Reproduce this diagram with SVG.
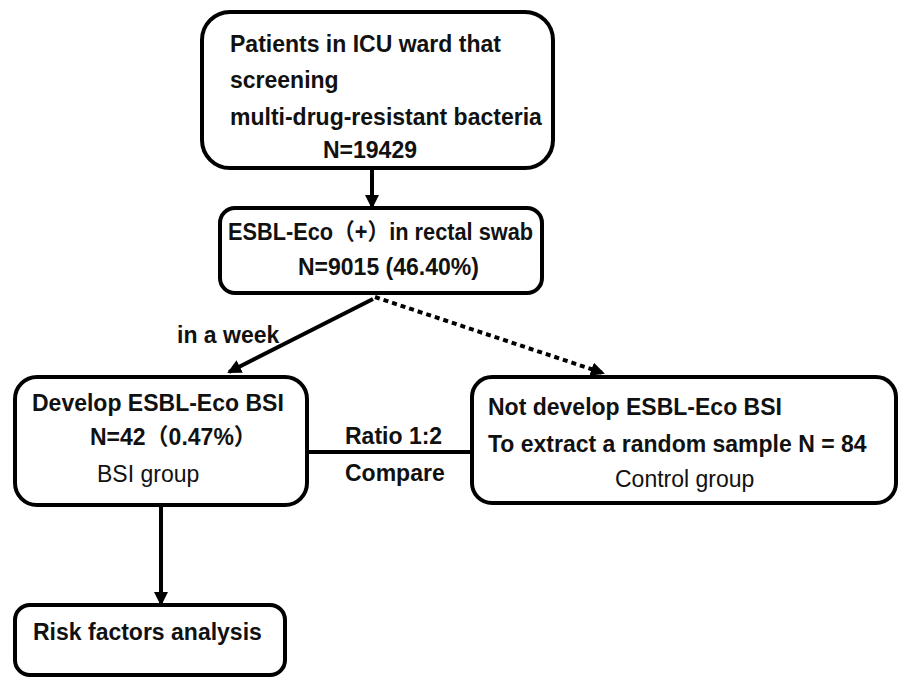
<svg xmlns="http://www.w3.org/2000/svg" width="899" height="678" viewBox="0 0 899 678">
<style>
.box{fill:#fff;stroke:#000;stroke-width:4}
.b{font-family:"Liberation Sans","Noto Sans CJK SC",Arial,sans-serif;font-weight:bold;font-size:23px;fill:#111}
.r{font-family:"Liberation Sans","Noto Sans CJK SC",Arial,sans-serif;font-size:23px;fill:#111}
.ln{stroke:#000;stroke-width:4;fill:none}
</style>
<defs>
<marker id="ah" markerWidth="14" markerHeight="14" refX="12" refY="7" orient="auto" markerUnits="userSpaceOnUse" viewBox="0 0 14 14">
<path d="M0,0 L14,7 L0,14 Z" fill="#000"/>
</marker>
</defs>
<rect width="899" height="678" fill="#fff"/>
<g id="connectors">
<line class="ln" x1="372" y1="168" x2="372" y2="207" marker-end="url(#ah)"/>
<line class="ln" x1="373" y1="299" x2="229" y2="372" marker-end="url(#ah)"/>
<line class="ln" x1="375" y1="297" x2="603" y2="373" stroke-width="4.5" stroke-dasharray="5 4" marker-end="url(#ah)"/>
<line class="ln" x1="307" y1="452" x2="472" y2="452"/>
<line class="ln" x1="161" y1="505" x2="161" y2="604" marker-end="url(#ah)"/>
<text class="b" x="177" y="343">in a week</text>
<text class="b" x="345" y="444">Ratio 1:2</text>
<text class="b" x="345" y="481">Compare</text>
</g>
<g id="n1">
<rect class="box" x="202" y="12" width="351" height="156" rx="28"/>
<text class="b" x="230" y="52">Patients in ICU ward that</text>
<text class="b" x="230" y="88">screening</text>
<text class="b" x="230" y="125">multi-drug-resistant bacteria</text>
<text class="b" x="323" y="158">N=19429</text>
</g>
<g id="n2">
<rect class="box" x="220" y="208" width="322" height="85" rx="15"/>
<text class="b" x="228" y="240" textLength="305" lengthAdjust="spacingAndGlyphs">ESBL-Eco（+）in rectal swab</text>
<text class="b" x="298" y="275">N=9015 (46.40%)</text>
</g>
<g id="n3">
<rect class="box" x="15" y="377" width="292" height="128" rx="22"/>
<text class="b" x="32" y="411">Develop ESBL-Eco BSI</text>
<text class="b" x="90" y="445">N=42（0.47%）</text>
<text class="r" x="97" y="482">BSI group</text>
</g>
<g id="n4">
<rect class="box" x="472" y="377" width="424" height="126" rx="20"/>
<text class="b" x="488" y="415">Not develop ESBL-Eco BSI</text>
<text class="b" x="488" y="452">To extract a random sample N = 84</text>
<text class="r" x="615" y="487">Control group</text>
</g>
<g id="n5">
<rect class="box" x="15" y="605" width="270" height="70" rx="15"/>
<text class="b" x="33" y="640">Risk factors analysis</text>
</g>
</svg>
